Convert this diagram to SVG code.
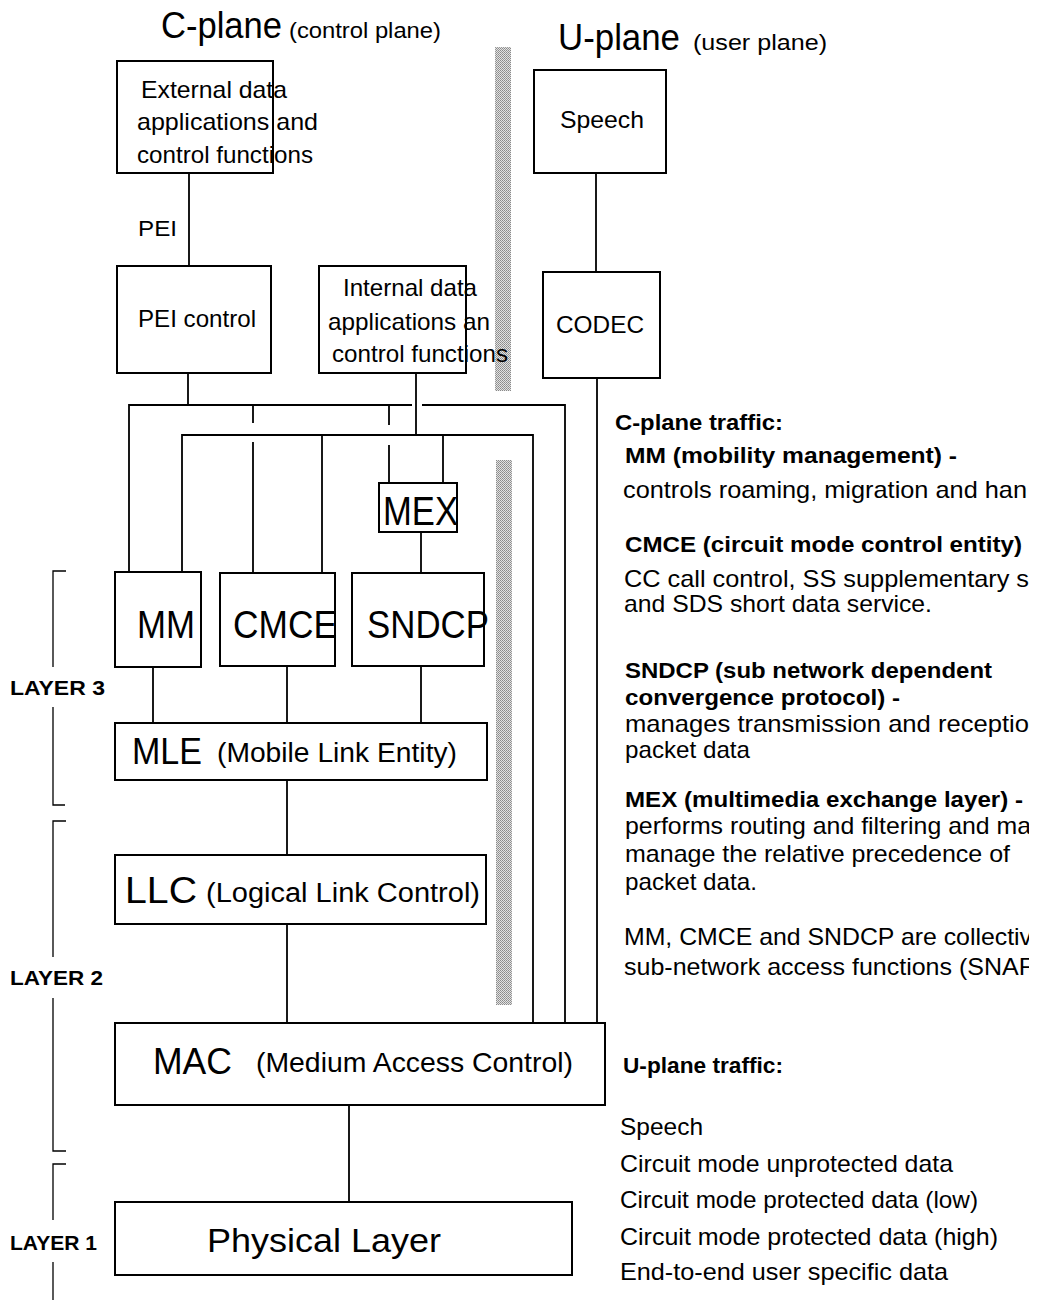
<svg xmlns="http://www.w3.org/2000/svg" width="1041" height="1300" viewBox="0 0 1041 1300">
<defs>
<pattern id="dots" width="2" height="2" patternUnits="userSpaceOnUse">
<rect width="2" height="2" fill="#e2e2e2"/>
<rect x="0" y="0" width="1" height="1" fill="#8a8a8a"/>
<rect x="1" y="1" width="1" height="1" fill="#9a9a9a"/>
</pattern>
<clipPath id="pageclip"><rect x="0" y="0" width="1029" height="1300"/></clipPath>
</defs>
<style>
text{font-family:"Liberation Sans",Arial,Helvetica,sans-serif;fill:#000}
.box{fill:none;stroke:#000;stroke-width:2}
.ln{stroke:#000;stroke-width:1.8;fill:none}
.brk{stroke:#000;stroke-width:1.3;fill:none}
.t24{font-size:24px}
.big{font-size:39px}
.mid{font-size:36px}
.sub{font-size:27px}
.lay{font-size:20px;font-weight:bold}
.hd{font-size:22px;font-weight:bold}
.rt{font-size:24px}
</style>
<rect width="1041" height="1300" fill="#fff"/>

<!-- separators (dotted bars) -->
<rect x="495" y="47" width="16" height="344" fill="url(#dots)"/>
<rect x="496" y="460" width="16" height="545" fill="url(#dots)"/>

<!-- titles -->
<text x="161" y="38" font-size="36" textLength="121" lengthAdjust="spacingAndGlyphs">C-plane</text>
<text x="289" y="38" font-size="22" textLength="152" lengthAdjust="spacingAndGlyphs">(control plane)</text>
<text x="558" y="50" font-size="36" textLength="122" lengthAdjust="spacingAndGlyphs">U-plane</text>
<text x="693" y="50" font-size="22" textLength="134" lengthAdjust="spacingAndGlyphs">(user plane)</text>

<!-- connectors -->
<g id="connectors" class="ln">
<line x1="189" y1="173" x2="189" y2="266"/>
<line x1="188" y1="373" x2="188" y2="405"/>
<polyline points="129,572 129,405 412,405"/>
<polyline points="422,405 565,405 565,1023"/>
<line x1="253" y1="405" x2="253" y2="423"/>
<line x1="253" y1="442" x2="253" y2="573"/>
<line x1="389" y1="405" x2="389" y2="425"/>
<line x1="389" y1="445" x2="389" y2="483"/>
<line x1="416" y1="373" x2="416" y2="435"/>
<polyline points="182,572 182,435 533,435 533,1023"/>
<line x1="322" y1="435" x2="322" y2="573"/>
<line x1="443" y1="435" x2="443" y2="483"/>
<line x1="421" y1="532" x2="421" y2="573"/>
<line x1="153" y1="667" x2="153" y2="723"/>
<line x1="287" y1="666" x2="287" y2="723"/>
<line x1="421" y1="666" x2="421" y2="723"/>
<line x1="287" y1="780" x2="287" y2="855"/>
<line x1="287" y1="924" x2="287" y2="1023"/>
<line x1="596" y1="173" x2="596" y2="272"/>
<line x1="597" y1="378" x2="597" y2="1023"/>
<line x1="349" y1="1105" x2="349" y2="1202"/>
</g>

<text x="138" y="236" font-size="22" textLength="39" lengthAdjust="spacingAndGlyphs">PEI</text>

<g id="external">
<rect class="box" x="117" y="61" width="156" height="112"/>
<text class="t24" x="141" y="98" textLength="146" lengthAdjust="spacingAndGlyphs">External data</text>
<text class="t24" x="137" y="130" textLength="181" lengthAdjust="spacingAndGlyphs">applications and</text>
<text class="t24" x="137" y="163" textLength="176" lengthAdjust="spacingAndGlyphs">control functions</text>
</g>

<g id="pei-control">
<rect class="box" x="117" y="266" width="154" height="107"/>
<text class="t24" x="138" y="327" textLength="118" lengthAdjust="spacingAndGlyphs">PEI control</text>
</g>

<g id="internal">
<rect class="box" x="319" y="266" width="147" height="107"/>
<text class="t24" x="343" y="296" textLength="134" lengthAdjust="spacingAndGlyphs">Internal data</text>
<text class="t24" x="328" y="330" textLength="162" lengthAdjust="spacingAndGlyphs">applications an</text>
<text class="t24" x="332" y="362" textLength="176" lengthAdjust="spacingAndGlyphs">control functions</text>
</g>

<g id="speech">
<rect class="box" x="534" y="70" width="132" height="103"/>
<text class="t24" x="560" y="128" textLength="84" lengthAdjust="spacingAndGlyphs">Speech</text>
</g>

<g id="codec">
<rect class="box" x="543" y="272" width="117" height="106"/>
<text class="t24" x="556" y="333" textLength="88" lengthAdjust="spacingAndGlyphs">CODEC</text>
</g>

<g id="mex">
<rect class="box" x="379" y="483" width="78" height="49"/>
<text x="383" y="525" font-size="40" textLength="75" lengthAdjust="spacingAndGlyphs">MEX</text>
</g>

<g id="mm">
<rect class="box" x="115" y="572" width="86" height="95"/>
<text class="big" x="137" y="638" textLength="58" lengthAdjust="spacingAndGlyphs">MM</text>
</g>

<g id="cmce">
<rect class="box" x="220" y="573" width="115" height="93"/>
<text class="big" x="233" y="638" textLength="104" lengthAdjust="spacingAndGlyphs">CMCE</text>
</g>

<g id="sndcp">
<rect class="box" x="352" y="573" width="132" height="93"/>
<text class="big" x="367" y="638" textLength="122" lengthAdjust="spacingAndGlyphs">SNDCP</text>
</g>

<g id="mle">
<rect class="box" x="115" y="723" width="372" height="57"/>
<text class="mid" x="132" y="764" textLength="70" lengthAdjust="spacingAndGlyphs">MLE</text>
<text class="sub" x="217" y="762" textLength="240" lengthAdjust="spacingAndGlyphs">(Mobile Link Entity)</text>
</g>

<g id="llc">
<rect class="box" x="115" y="855" width="371" height="69"/>
<text class="mid" x="125" y="903" textLength="72" lengthAdjust="spacingAndGlyphs">LLC</text>
<text class="sub" x="206" y="902" textLength="274" lengthAdjust="spacingAndGlyphs">(Logical Link Control)</text>
</g>

<g id="mac">
<rect class="box" x="115" y="1023" width="490" height="82"/>
<text class="mid" x="153" y="1074" textLength="79" lengthAdjust="spacingAndGlyphs">MAC</text>
<text font-size="28" x="256" y="1072" textLength="317" lengthAdjust="spacingAndGlyphs">(Medium Access Control)</text>
</g>

<g id="physical">
<rect class="box" x="115" y="1202" width="457" height="73"/>
<text font-size="34" x="207" y="1252" textLength="234" lengthAdjust="spacingAndGlyphs">Physical Layer</text>
</g>

<!-- layer brackets -->
<g id="layer3">
<polyline class="brk" points="66,571 53,571 53,667"/>
<polyline class="brk" points="53,707 53,805 65,805"/>
<text class="lay" x="10" y="695" textLength="95" lengthAdjust="spacingAndGlyphs">LAYER 3</text>
</g>
<g id="layer2">
<polyline class="brk" points="66,821 53,821 53,957"/>
<polyline class="brk" points="53,998 53,1151 66,1151"/>
<text class="lay" x="10" y="985" textLength="93" lengthAdjust="spacingAndGlyphs">LAYER 2</text>
</g>
<g id="layer1">
<polyline class="brk" points="66,1164 53,1164 53,1220"/>
<polyline class="brk" points="53,1262 53,1300"/>
<text class="lay" x="10" y="1250" textLength="87" lengthAdjust="spacingAndGlyphs">LAYER 1</text>
</g>

<!-- right-hand description -->
<g id="legend" clip-path="url(#pageclip)">
<text class="hd" x="615" y="430" textLength="168" lengthAdjust="spacingAndGlyphs">C-plane traffic:</text>
<text class="hd" x="625" y="463" textLength="332" lengthAdjust="spacingAndGlyphs">MM  (mobility management) -</text>
<text class="rt" x="623" y="498" textLength="404" lengthAdjust="spacingAndGlyphs">controls roaming, migration and han</text>
<text class="hd" x="625" y="552" textLength="397" lengthAdjust="spacingAndGlyphs">CMCE  (circuit mode control entity)</text>
<text class="rt" x="624" y="587" font-size="23" textLength="405" lengthAdjust="spacingAndGlyphs">CC call control, SS supplementary s</text>
<text class="rt" x="624" y="612" font-size="23" textLength="308" lengthAdjust="spacingAndGlyphs">and SDS short data service.</text>
<text class="hd" x="625" y="678" textLength="367" lengthAdjust="spacingAndGlyphs">SNDCP (sub network dependent</text>
<text class="hd" x="625" y="705" textLength="275" lengthAdjust="spacingAndGlyphs">convergence protocol) -</text>
<text class="rt" x="625" y="732" textLength="404" lengthAdjust="spacingAndGlyphs">manages transmission and receptio</text>
<text class="rt" x="625" y="758" textLength="125" lengthAdjust="spacingAndGlyphs">packet data</text>
<text class="hd" x="625" y="807" textLength="398" lengthAdjust="spacingAndGlyphs">MEX (multimedia exchange layer) -</text>
<text class="rt" x="625" y="834" textLength="406" lengthAdjust="spacingAndGlyphs">performs routing and filtering and ma</text>
<text class="rt" x="625" y="862" textLength="385" lengthAdjust="spacingAndGlyphs">manage the relative precedence of</text>
<text class="rt" x="625" y="890" textLength="132" lengthAdjust="spacingAndGlyphs">packet data.</text>
<text class="rt" x="624" y="945" textLength="408" lengthAdjust="spacingAndGlyphs">MM, CMCE and SNDCP are collectiv</text>
<text class="rt" x="624" y="975" textLength="410" lengthAdjust="spacingAndGlyphs">sub-network access functions (SNAF</text>
<text class="hd" x="623" y="1073" textLength="160" lengthAdjust="spacingAndGlyphs">U-plane traffic:</text>
<text class="rt" x="620" y="1135" textLength="83" lengthAdjust="spacingAndGlyphs">Speech</text>
<text class="rt" x="620" y="1172" textLength="333" lengthAdjust="spacingAndGlyphs">Circuit mode unprotected data</text>
<text class="rt" x="620" y="1208" textLength="358" lengthAdjust="spacingAndGlyphs">Circuit mode protected data (low)</text>
<text class="rt" x="620" y="1245" textLength="378" lengthAdjust="spacingAndGlyphs">Circuit mode protected data (high)</text>
<text class="rt" x="620" y="1280" textLength="328" lengthAdjust="spacingAndGlyphs">End-to-end user specific data</text>
</g>
</svg>
